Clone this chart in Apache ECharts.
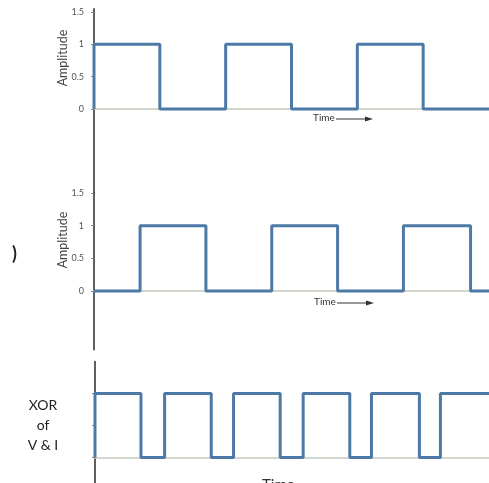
<!DOCTYPE html>
<html lang="en">
<head>
    <meta charset="UTF-8">
    <title>Phase detector waveforms</title>
    <script src="https://cdn.jsdelivr.net/npm/echarts@6/dist/echarts.min.js"></script>
    <style>
        html, body {
            margin: 0;
            padding: 0;
            background: #fff;
        }

        #main {
            width: 489px;
            height: 483px;
        }
    </style>
</head>
<body>
<div id="main"></div>
<script>
    // square waves as (time, level) breakpoints, level holds until next time
    var vTimes = [0, 0, 1, 2, 3, 4, 5, 6];
    var vLevels = [0, 1, 0, 1, 0, 1, 0, 0];
    var iTimes = [0, 0.7, 1.7, 2.7, 3.7, 4.7, 5.72, 6];
    var iLevels = [0, 1, 0, 1, 0, 1, 0, 0];
    var xorTimes = [0, 0, 0.7, 1.06, 1.77, 2.11, 2.82, 3.17, 3.88, 4.21, 4.94, 5.26, 6];
    var xorLevels = [0, 1, 0, 1, 0, 1, 0, 1, 0, 1, 0, 1, 1];
    var ampTicks = [0, 0.5, 1, 1.5];
    var xorTicks = [0, 0.5, 1];

    var lineColor = '#4d79a6';
    var baseColor = '#c3cabd';

    function pairs(t, v) {
        return t.map(function (x, i) {
            return [x, v[i]];
        });
    }

    function xAxisFor(idx) {
        return {
            type: 'value', gridIndex: idx, min: 0, max: 6,
            axisLine: {show: true, onZero: true, lineStyle: {color: baseColor, width: 1.5}},
            axisTick: {show: false},
            axisLabel: {show: false},
            splitLine: {show: false}
        };
    }

    function yAxisFor(idx, min, max, ticks, labels) {
        return {
            type: 'value', gridIndex: idx, min: min, max: max,
            axisLine: {show: true, lineStyle: {color: '#2a2a2a', width: 1.5}},
            axisTick: {show: true, length: 3, customValues: ticks, lineStyle: {color: '#888'}},
            axisLabel: {
                show: labels, customValues: ticks, fontSize: 9, color: '#555',
                margin: 10, fontFamily: 'Lato'
            },
            splitLine: {show: false}
        };
    }

    function wave(idx, t, v) {
        return {
            type: 'line', xAxisIndex: idx, yAxisIndex: idx,
            step: 'end', showSymbol: false, animation: false,
            data: pairs(t, v),
            lineStyle: {color: lineColor, width: 3},
            z: 3
        };
    }

    // "Time ---->" caption: text, then an arrow starting at x + gap
    function timeLabel(x, y, size, gap, len) {
        var x1 = x + gap, x2 = x + gap + len;
        return [
            {type: 'text', x: x, y: y, style: {text: 'Time', font: size + 'px Lato', fill: '#333', verticalAlign: 'middle'}},
            {type: 'line', shape: {x1: x1, y1: y + 1, x2: x2, y2: y + 1}, style: {stroke: '#333', lineWidth: 1}},
            {type: 'polygon', shape: {points: [[x2 + 3, y + 1], [x2 - 5, y - 1.5], [x2 - 5, y + 3.5]]}, style: {fill: '#333'}}
        ];
    }

    var myChart = echarts.init(document.getElementById('main'));

    var graphics = [
        {type: 'text', x: 63, y: 58, rotation: Math.PI / 2, style: {text: 'Amplitude', font: '12.5px Lato', fill: '#444', align: 'center', verticalAlign: 'middle'}},
        {type: 'text', x: 63, y: 240, rotation: Math.PI / 2, style: {text: 'Amplitude', font: '12.5px Lato', fill: '#444', align: 'center', verticalAlign: 'middle'}},
        {type: 'text', x: 12, y: 254, style: {text: ')', font: 'bold 18px Lato', fill: '#222', verticalAlign: 'middle'}},
        {type: 'text', x: 43, y: 425, style: {text: 'XOR\nof\nV & I', font: '14px Lato', fill: '#222', align: 'center', verticalAlign: 'middle', lineHeight: 20}}
    ].concat(timeLabel(313, 118, 10, 23, 34), timeLabel(314, 302, 10, 23, 34), timeLabel(262, 485, 15, 36, 33));

    myChart.setOption({
        animation: false,
        grid: [
            {left: 94, top: 8.8, width: 396, height: 184.2},
            {left: 94, top: 193, width: 396, height: 156.8},
            {left: 95, top: 361.5, width: 396, height: 123.5}
        ],
        xAxis: [xAxisFor(0), xAxisFor(1), xAxisFor(2)],
        yAxis: [
            yAxisFor(0, -1.3, 1.55, ampTicks, true),
            yAxisFor(1, -0.9, 1.5, ampTicks, true),
            yAxisFor(2, -0.4, 1.5, xorTicks, false)
        ],
        series: [
            wave(0, vTimes, vLevels),
            wave(1, iTimes, iLevels),
            wave(2, xorTimes, xorLevels)
        ],
        graphic: graphics
    });
</script>
</body>
</html>
